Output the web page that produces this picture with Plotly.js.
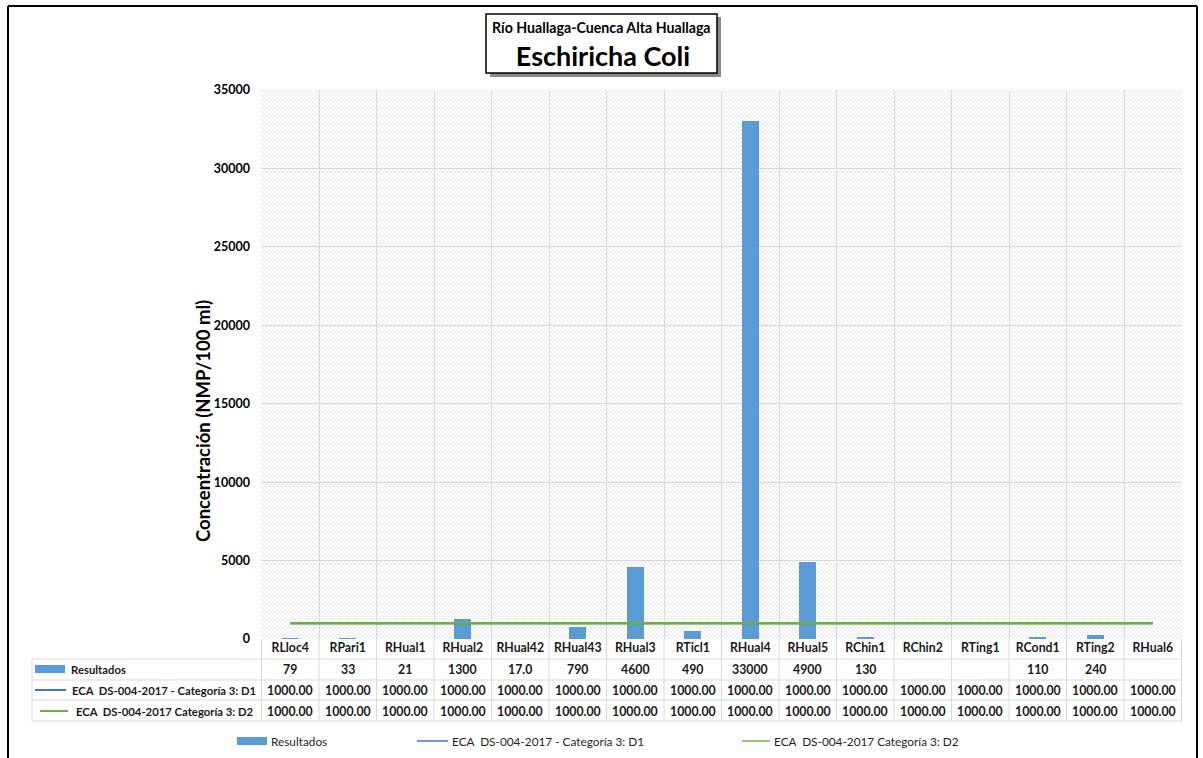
<!DOCTYPE html>
<html>
<head>
<meta charset="utf-8">
<script src="https://cdn.plot.ly/plotly-3.0.1.min.js"></script>
<style>
  html, body { margin: 0; padding: 0; background: #fff; }
  #chart { width: 1203px; height: 758px; }
</style>
</head>
<body>
<div id="chart"></div>
<script>
// Sampling stations along the upper Huallaga basin
const categories = ['RLloc4', 'RPari1', 'RHual1', 'RHual2', 'RHual42', 'RHual43', 'RHual3', 'RTicl1',
                    'RHual4', 'RHual5', 'RChin1', 'RChin2', 'RTing1', 'RCond1', 'RTing2', 'RHual6'];

// E. coli results (NMP/100 ml) as printed in the data table; blank = no sample
const resultadosLabels = ['79', '33', '21', '1300', '17.0', '790', '4600', '490',
                          '33000', '4900', '130', '', '', '110', '240', ''];

// Environmental quality standards (ECA DS-004-2017, Category 3)
const ecaD1 = [1000, 1000, 1000, 1000, 1000, 1000, 1000, 1000, 1000, 1000, 1000, 1000, 1000, 1000, 1000, 1000];
const ecaD2 = [1000, 1000, 1000, 1000, 1000, 1000, 1000, 1000, 1000, 1000, 1000, 1000, 1000, 1000, 1000, 1000];

const seriesNames = ['Resultados', 'ECA  DS-004-2017 - Categoría 3: D1', 'ECA  DS-004-2017 Categoría 3: D2'];
const yTicks = [0, 5000, 10000, 15000, 20000, 25000, 30000, 35000];

const resultados = resultadosLabels.map(s => (s === '' ? null : parseFloat(s)));

const W = 1203, H = 758;
const M = { l: 261, r: 21, t: 90, b: 119 };
const PW = W - M.l - M.r, PH = H - M.t - M.b;
const px = x => (x - M.l) / PW;          // page pixel -> paper x
const py = y => (H - M.b - y) / PH;       // page pixel -> paper y

const FONT = 'Lato, "Open Sans", sans-serif';
const BLUE = '#5B9BD5', DBLUE = '#4472C4', GREEN = '#70AD47', GRID = '#d9d9d9', TXT = '#1a1a1a';

// Diagonal hatch used as the plot-area fill
const hatch =
  '<svg xmlns="http://www.w3.org/2000/svg" width="' + PW + '" height="' + PH + '">' +
  '<defs><pattern id="h" patternUnits="userSpaceOnUse" width="4" height="4">' +
  '<rect width="4" height="4" fill="#ffffff"/>' +
  '<path d="M-1,-1 L5,5 M3,-1 L5,1 M-1,3 L1,5" stroke="#e4e4e4" stroke-width="1"/>' +
  '</pattern></defs><rect width="100%" height="100%" fill="url(#h)"/></svg>';
const hatchURI = 'data:image/svg+xml;charset=utf-8,' + encodeURIComponent(hatch);

const traces = [
  { type: 'bar', name: seriesNames[0], x: categories, y: resultados, width: 0.29,
    marker: { color: BLUE }, showlegend: false, hoverinfo: 'x+y' },
  { type: 'scatter', mode: 'lines', name: seriesNames[1], x: categories, y: ecaD1,
    line: { color: DBLUE, width: 2 }, showlegend: false },
  { type: 'scatter', mode: 'lines', name: seriesNames[2], x: categories, y: ecaD2,
    line: { color: GREEN, width: 2.5 }, showlegend: false }
];

const shapes = [];
const annotations = [];
const line = (x0, y0, x1, y1, color, width, xref) =>
  shapes.push({ type: 'line', xref: xref || 'paper', yref: 'paper', x0, y0, x1, y1,
                line: { color, width }, layer: 'above' });

// ---- data table under the plot ----
const rowY = [659, 680, 700, 721];
rowY.forEach(y => line(px(32), py(y), 1, py(y), GRID, 1));
line(px(32), py(659), px(32), py(721), GRID, 1);
for (let i = 0; i <= categories.length; i++) {
  line(i - 0.5, py(639), i - 0.5, py(721), GRID, 1, 'x');
}

const cell = (x, y, text, xref, anchor, opts) => annotations.push(Object.assign({
  xref: xref, yref: 'paper', x: x, y: py(y), text: text, showarrow: false,
  xanchor: anchor, yanchor: 'middle',
  font: { family: FONT, size: 12.3, color: TXT, weight: 700 }
}, opts || {}));

const rowCenters = [669, 690, 711];
categories.forEach((c, i) => {
  cell(c, rowCenters[0], resultadosLabels[i], 'x', 'center');
  cell(c, rowCenters[1], ecaD1[i].toFixed(2), 'x', 'center');
  cell(c, rowCenters[2], ecaD2[i].toFixed(2), 'x', 'center');
});

// row headers with their series keys
const headFont = { family: FONT, size: 11.3, color: TXT, weight: 700 };
shapes.push({ type: 'rect', xref: 'paper', yref: 'paper', x0: px(35), x1: px(65), y0: py(673), y1: py(665),
              fillcolor: BLUE, line: { width: 0 }, layer: 'above' });
line(px(35), py(690), px(66), py(690), DBLUE, 2);
line(px(40), py(711), px(68), py(711), GREEN, 2);
cell(px(69), rowCenters[0], seriesNames[0], 'paper', 'left', { font: headFont });
cell(px(70), rowCenters[1], seriesNames[1], 'paper', 'left', { font: headFont });
cell(px(74), rowCenters[2], seriesNames[2], 'paper', 'left', { font: headFont });

// ---- legend along the bottom ----
const legY = 741;
shapes.push({ type: 'rect', xref: 'paper', yref: 'paper', x0: px(237), x1: px(267), y0: py(745), y1: py(737),
              fillcolor: BLUE, line: { width: 0 }, layer: 'above' });
line(px(417), py(legY), px(448), py(legY), DBLUE, 1.5);
line(px(742), py(legY), px(770), py(legY), GREEN, 1.5);
const legFont = { family: FONT, size: 11.8, color: '#1f1f1f', weight: 400 };
cell(px(269), legY, seriesNames[0], 'paper', 'left', { font: legFont });
cell(px(450), legY, seriesNames[1], 'paper', 'left', { font: legFont });
cell(px(772), legY, seriesNames[2], 'paper', 'left', { font: legFont });

// ---- chart-area frame ----
line(px(8), py(6), px(8), py(760), '#000', 2);
line(px(8), py(6), px(1197), py(6), '#000', 2);
line(px(1197), py(6), px(1197), py(760), '#000', 2);

// ---- boxed title ----
shapes.push({ type: 'rect', xref: 'paper', yref: 'paper', x0: px(490), x1: px(721), y0: py(77), y1: py(17),
              fillcolor: 'rgba(60,60,60,0.6)', line: { width: 0 }, layer: 'above' });
shapes.push({ type: 'rect', xref: 'paper', yref: 'paper', x0: px(486), x1: px(717), y0: py(73), y1: py(14),
              fillcolor: '#ffffff', line: { color: '#000', width: 1.5 }, layer: 'above' });
annotations.push({ xref: 'paper', yref: 'paper', x: px(601.5), y: py(27), showarrow: false,
  xanchor: 'center', yanchor: 'middle', text: 'Río Huallaga-Cuenca Alta Huallaga',
  font: { family: FONT, size: 14.2, color: '#000', weight: 700 } });

// y-axis title placed at the axis' visual centre
annotations.push({ xref: 'paper', yref: 'paper', x: px(203), y: py(421), showarrow: false,
  xanchor: 'center', yanchor: 'middle', textangle: -90, text: 'Concentración (NMP/100 ml)',
  font: { family: FONT, size: 18.5, color: '#000', weight: 700 } });

const layout = {
  width: W, height: H, autosize: false,
  margin: M,
  paper_bgcolor: '#ffffff',
  plot_bgcolor: 'rgba(0,0,0,0)',
  font: { family: FONT, color: TXT },
  title: { text: 'Eschiricha Coli', x: px(603), xref: 'paper', xanchor: 'center',
           y: 1 - 57 / H, yref: 'container', yanchor: 'middle',
           font: { family: FONT, size: 27, color: '#000', weight: 700 } },
  bargap: 0,
  xaxis: {
    type: 'category', categoryorder: 'array', categoryarray: categories,
    showgrid: true, gridcolor: GRID, gridwidth: 1, tickson: 'boundaries',
    ticks: '', showline: false, zeroline: false,
    tickfont: { family: FONT, size: 12.3, color: TXT, weight: 700 },
    fixedrange: true
  },
  yaxis: {
    range: [0, 35000], tickvals: yTicks, ticktext: yTicks.map(String),
    showgrid: true, gridcolor: GRID, gridwidth: 1,
    ticks: '', showline: false, zeroline: false, ticklabelstandoff: 10,
    tickfont: { family: FONT, size: 12.5, color: '#000', weight: 700 },
    fixedrange: true
  },
  images: [{ source: hatchURI, xref: 'paper', yref: 'paper', x: 0, y: 1, sizex: 1, sizey: 1,
             xanchor: 'left', yanchor: 'top', sizing: 'stretch', layer: 'below' }],
  shapes: shapes,
  annotations: annotations,
  showlegend: false
};

Plotly.newPlot('chart', traces, layout, { displayModeBar: false, staticPlot: true });
</script>
</body>
</html>
